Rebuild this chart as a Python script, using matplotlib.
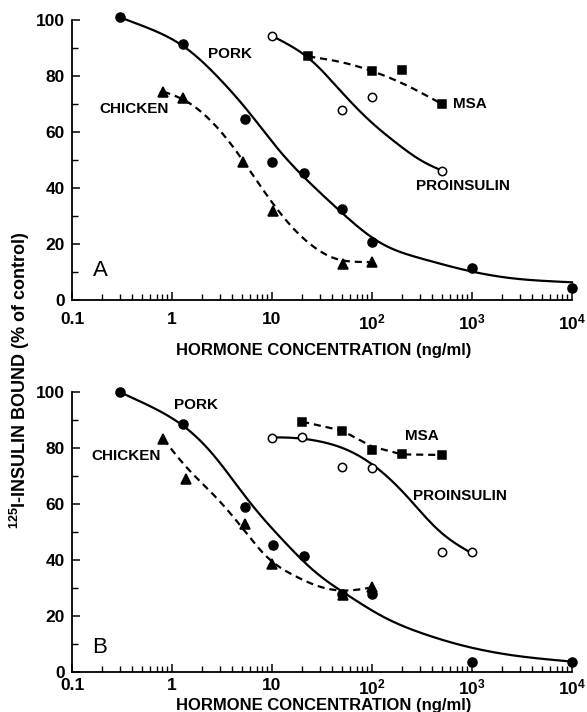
import numpy as np
import matplotlib
matplotlib.use('Agg')
import matplotlib.pyplot as plt
from matplotlib.ticker import FixedLocator, NullFormatter


plt.rcParams['font.family'] = ['Liberation Sans', 'DejaVu Sans']
plt.rcParams['font.weight'] = 'bold'
plt.rcParams['axes.labelweight'] = 'bold'
plt.rcParams['mathtext.fontset'] = 'custom'
plt.rcParams['mathtext.rm'] = 'Liberation Sans:bold'
plt.rcParams['mathtext.default'] = 'regular'

# ---- panel A : measured points (ng/ml, % of control) ----
porkA_x = [0.3, 1.3, 5.4, 10, 21, 50, 100, 1000, 10000]
porkA_y = [101, 91.5, 64.8, 49.4, 45.5, 32.4, 20.8, 11.3, 4.2]
chickenA_x = [0.82, 1.28, 5.1, 10.3, 51, 99]
chickenA_y = [74.4, 72.3, 49.4, 31.6, 12.9, 13.5]
proinsA_x = [10, 50, 100, 500]
proinsA_y = [94.3, 67.9, 72.6, 46.2]
msaA_x = [23, 100, 200, 500]
msaA_y = [87, 81.9, 82.1, 70]

# panel A : fitted curves as drawn in the figure
porkA_cx = [0.3, 1.3, 3, 7, 11, 19, 33, 60, 95, 150, 300, 1000, 3000, 10000]
porkA_cy = [101, 91.5, 79, 64.3, 53.6, 45.2, 36.9, 28.6, 22, 17.9, 15, 10, 7.3, 6.3]
chickenA_cx = [0.82, 1.3, 3, 5.1, 9.5, 17.7, 28, 48, 100]
chickenA_cy = [74.4, 72, 61, 50, 35.7, 23.8, 17.9, 13.7, 13.5]
proinsA_cx = [10, 12, 23, 50, 100, 176, 324, 500]
proinsA_cy = [94.3, 92.9, 87, 74, 63, 56, 49, 46.2]
msaA_cx = [23, 50, 100, 200, 500]
msaA_cy = [87, 85, 81.8, 77.5, 70]

# ---- panel B : measured points ----
porkB_x = [0.3, 1.3, 5.4, 10.3, 21, 50, 100, 1000, 10000]
porkB_y = [99.9, 88.6, 59, 45.3, 41.5, 28, 28, 3.7, 3.5]
chickenB_x = [0.82, 1.37, 5.4, 10, 51, 100]
chickenB_y = [83.2, 68.8, 52.7, 38.6, 27.5, 30.5]
proinsB_x = [10, 20, 50, 100, 500, 1000]
proinsB_y = [83.7, 84, 73.3, 72.9, 43, 42.8]
msaB_x = [20, 50, 100, 200, 500]
msaB_y = [89.4, 86.2, 79.3, 77.7, 77.5]

# panel B : fitted curves
porkB_cx = [0.3, 1.3, 3, 5.5, 10.3, 17.7, 28.4, 51.6, 95, 130, 300, 1000, 3000, 10000]
porkB_cy = [100, 88.6, 75.7, 61.4, 50.7, 41.8, 34, 28.7, 22.1, 19.2, 14, 8.5, 5.5, 3.7]
chickenB_cx = [0.82, 1.37, 2.76, 4.7, 9.9, 17.7, 27.9, 51.6, 100]
chickenB_cy = [83.2, 73, 62.6, 53, 38.8, 34, 30.5, 28.7, 30.2]
proinsB_cx = [10, 12, 20, 50, 100, 215, 352, 500, 851, 1000]
proinsB_cy = [83.7, 84, 83.5, 80.5, 74.6, 63.8, 54.5, 48.5, 43.8, 42.3]
msaB_cx = [20, 50, 100, 200, 500]
msaB_cy = [89.4, 86.2, 80.5, 77.7, 77.5]

xTicks = [0.1, 1, 10, 100, 1000, 10000]
xTickLabels = ['0.1', '1', '10', '10$^{2}$', '10$^{3}$', '10$^{4}$']


def pchip(lx, y, xn):
    h = np.diff(lx)
    d = np.diff(y) / h
    m = np.zeros_like(y)
    m[0], m[-1] = d[0], d[-1]
    for k in range(1, len(y) - 1):
        if d[k - 1] * d[k] > 0:
            w1 = 2 * h[k] + h[k - 1]
            w2 = h[k] + 2 * h[k - 1]
            m[k] = (w1 + w2) / (w1 / d[k - 1] + w2 / d[k])
    idx = np.clip(np.searchsorted(lx, xn) - 1, 0, len(h) - 1)
    t = (xn - lx[idx]) / h[idx]
    return ((2 * t**3 - 3 * t**2 + 1) * y[idx]
            + (t**3 - 2 * t**2 + t) * h[idx] * m[idx]
            + (-2 * t**3 + 3 * t**2) * y[idx + 1]
            + (t**3 - t**2) * h[idx] * m[idx + 1])


def smooth(xs, ys, sigma=0.12, num=400):
    """pchip through the curve points in log10(x), then a gaussian blur
    to take out the kinks of hand-read points"""
    lx = np.log10(np.asarray(xs, float))
    y = np.asarray(ys, float)
    grid = np.linspace(lx[0], lx[-1], num)
    yn = pchip(lx, y, grid)
    step = grid[1] - grid[0]
    n = int(3 * sigma / step)
    k = max(n // 2, 1)
    s0 = (yn[k] - yn[0]) / (k * step)
    s1 = (yn[-1] - yn[-1 - k]) / (k * step)
    off = np.arange(1, n + 1) * step
    padded = np.concatenate([yn[0] - s0 * off[::-1], yn, yn[-1] + s1 * off])
    kern = np.exp(-0.5 * (np.arange(-n, n + 1) * step / sigma) ** 2)
    kern /= kern.sum()
    ys_ = np.convolve(padded, kern, mode='same')[n:-n]
    return 10 ** grid, ys_


dashed = (0, (3.2, 2.2))


def styleAxes(ax, tickPad):
    ax.set_xscale('log')
    ax.set_xlim(0.1, 10000)
    ax.set_ylim(0, 100)
    for side in ['top', 'right']:
        ax.spines[side].set_visible(False)
    for side in ['left', 'bottom']:
        ax.spines[side].set_linewidth(1.3)
    ax.xaxis.set_major_locator(FixedLocator(xTicks))
    ax.set_xticklabels(xTickLabels)
    minors = [m * 10.0**e for e in range(-1, 4) for m in range(2, 10)]
    ax.xaxis.set_minor_locator(FixedLocator(minors))
    ax.xaxis.set_minor_formatter(NullFormatter())
    ax.set_yticks([0, 20, 40, 60, 80, 100])
    ax.set_yticks(range(10, 100, 20), minor=True)
    ax.tick_params(axis='both', which='major', direction='in', length=6,
                   width=1.1, labelsize=12.5)
    ax.tick_params(axis='both', which='minor', direction='in', length=4,
                   width=1.0)
    ax.tick_params(axis='x', which='major', pad=tickPad)
    ax.tick_params(axis='y', which='major', pad=5)


def drawSeries(ax, px, py, cx, cy, marker, line, curve=True, filled=True,
               ms=6.5, sigma=0.12):
    if curve:
        sx, sy = smooth(cx, cy, sigma)
    else:
        sx, sy = cx, cy
    ax.plot(sx, sy, color='black', lw=1.6, linestyle=line, clip_on=False,
            zorder=2)
    ax.plot(px, py, linestyle='none', marker=marker, ms=ms,
            mfc='black' if filled else 'white', mec='black', mew=1.1,
            clip_on=False, zorder=3)


fig = plt.figure(figsize=(5.87, 7.12), dpi=100)
axA = fig.add_axes([0.1227, 0.5787, 0.8518, 0.3933])
axB = fig.add_axes([0.1227, 0.0562, 0.8518, 0.3933])

# panel A
drawSeries(axA, porkA_x, porkA_y, porkA_cx, porkA_cy, 'o', '-', sigma=0.18)
drawSeries(axA, chickenA_x, chickenA_y, chickenA_cx, chickenA_cy, '^',
           dashed, ms=7)
drawSeries(axA, proinsA_x, proinsA_y, proinsA_cx, proinsA_cy, 'o', '-',
           filled=False, ms=6)
drawSeries(axA, msaA_x, msaA_y, msaA_cx, msaA_cy, 's', dashed, ms=5.5)
styleAxes(axA, 9)
axA.text(3.8, 88, 'PORK', fontsize=11, ha='center', va='center')
axA.text(0.42, 68.2, 'CHICKEN', fontsize=11, ha='center', va='center')
axA.text(955, 70, 'MSA', fontsize=11, ha='center', va='center')
axA.text(813, 40.7, 'PROINSULIN', fontsize=11, ha='center', va='center')
axA.text(0.19, 10.7, 'A', fontsize=16, fontweight='normal', ha='center',
         va='center')
axA.set_xlabel('HORMONE CONCENTRATION (ng/ml)', fontsize=12)
axA.xaxis.set_label_coords(0.504, -0.152)

# panel B
drawSeries(axB, porkB_x, porkB_y, porkB_cx, porkB_cy, 'o', '-', sigma=0.18)
drawSeries(axB, chickenB_x, chickenB_y, chickenB_cx, chickenB_cy, '^',
           dashed, ms=7)
drawSeries(axB, proinsB_x, proinsB_y, proinsB_cx, proinsB_cy, 'o', '-',
           filled=False, ms=6, sigma=0.15)
drawSeries(axB, msaB_x, msaB_y, msaB_cx, msaB_cy, 's', dashed, ms=5.5,
           curve=False)
styleAxes(axB, 4)
axB.text(1.74, 95.4, 'PORK', fontsize=11, ha='center', va='center')
axB.text(0.35, 77.1, 'CHICKEN', fontsize=11, ha='center', va='center')
axB.text(316, 84.3, 'MSA', fontsize=11, ha='center', va='center')
axB.text(759, 62.9, 'PROINSULIN', fontsize=11, ha='center', va='center')
axB.text(0.19, 8.9, 'B', fontsize=16, fontweight='normal', ha='center',
         va='center')
axB.set_xlabel('HORMONE CONCENTRATION (ng/ml)', fontsize=12)
axB.xaxis.set_label_coords(0.504, -0.093)

fig.text(20 / 587, 1 - 380 / 712, r'$^{125}$I-INSULIN BOUND (% of control)',
         rotation=90, fontsize=13, ha='center', va='center')

fig.savefig('out.png', dpi=100)
